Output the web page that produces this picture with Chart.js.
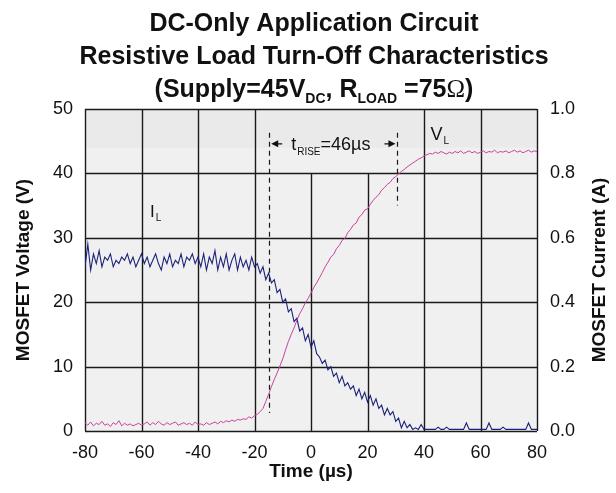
<!DOCTYPE html>
<html>
<head>
<meta charset="utf-8">
<script src="https://cdn.jsdelivr.net/npm/chart.js@4.4.0/dist/chart.umd.min.js"></script>
<style>
  html, body { margin: 0; padding: 0; background: #fff; }
</style>
</head>
<body>
<canvas id="chart" width="616" height="493"></canvas>
<script>
// time axis (microseconds), one sample per µs
const timeUs = [
  -80,-79,-78,-77,-76,-75,-74,-73,-72,-71,-70,-69,-68,-67,-66,-65,-64,-63,-62,-61,
  -60,-59,-58,-57,-56,-55,-54,-53,-52,-51,-50,-49,-48,-47,-46,-45,-44,-43,-42,-41,
  -40,-39,-38,-37,-36,-35,-34,-33,-32,-31,-30,-29,-28,-27,-26,-25,-24,-23,-22,-21,
  -20,-19,-18,-17,-16,-15,-14,-13,-12,-11,-10,-9,-8,-7,-6,-5,-4,-3,-2,-1,
  0,1,2,3,4,5,6,7,8,9,10,11,12,13,14,15,16,17,18,19,
  20,21,22,23,24,25,26,27,28,29,30,31,32,33,34,35,36,37,38,39,
  40,41,42,43,44,45,46,47,48,49,50,51,52,53,54,55,56,57,58,59,
  60,61,62,63,64,65,66,67,68,69,70,71,72,73,74,75,76,77,78,79,80
];

// MOSFET voltage V_L (V)
const voltageV = [
  1.3,0.9,1.4,0.8,1.2,1.0,1.5,0.9,1.1,0.7,
  1.3,1.0,1.6,0.8,1.2,0.9,1.1,0.8,1.0,1.2,
  0.9,1.1,1.4,0.9,1.3,1.0,1.5,1.1,0.9,1.3,
  1.0,1.2,1.4,0.9,1.1,1.3,1.0,1.2,0.9,1.4,
  1.0,1.1,0.9,1.3,1.0,1.2,1.4,1.1,1.5,1.3,
  1.6,1.4,1.7,1.5,1.8,1.7,1.9,1.8,2.2,2.0,
  2.4,2.6,3.0,3.5,4.6,5.7,6.9,8.0,9.0,10.1,
  11.2,12.6,13.9,15.0,16.0,17.2,18.2,19.0,19.9,20.6,
  21.4,22.3,23.0,23.8,24.6,25.5,26.2,27.0,27.4,28.3,
  28.8,29.6,29.9,30.8,31.3,32.0,32.3,33.2,33.6,34.3,
  34.5,35.2,35.8,36.3,36.7,37.4,37.8,38.3,38.6,39.2,
  39.5,39.9,40.3,40.6,41.0,41.3,41.6,41.9,42.2,42.4,
  42.7,42.9,43.1,43.0,43.3,43.1,43.4,43.2,43.0,43.3,
  43.1,43.4,43.2,43.5,43.1,43.3,43.5,43.2,43.4,43.1,
  43.3,43.5,43.2,43.4,43.3,43.6,43.2,43.4,43.3,43.5,
  43.2,43.4,43.6,43.3,43.5,43.2,43.4,43.6,43.3,43.5,
  43.4
];

// MOSFET current I_L (A)
const currentA = [
  0.51,0.58,0.50,0.55,0.52,0.56,0.51,0.54,0.53,0.55,
  0.51,0.53,0.52,0.54,0.53,0.55,0.52,0.54,0.51,0.53,
  0.55,0.52,0.54,0.51,0.53,0.55,0.52,0.50,0.54,0.52,
  0.55,0.51,0.53,0.52,0.55,0.51,0.54,0.53,0.55,0.52,
  0.54,0.51,0.55,0.50,0.54,0.52,0.56,0.50,0.54,0.51,
  0.55,0.50,0.53,0.55,0.50,0.54,0.51,0.53,0.50,0.54,
  0.51,0.52,0.49,0.51,0.47,0.49,0.46,0.47,0.43,0.44,
  0.40,0.41,0.37,0.38,0.34,0.35,0.31,0.32,0.28,0.30,
  0.26,0.28,0.24,0.23,0.21,0.22,0.19,0.20,0.17,0.18,
  0.15,0.17,0.14,0.15,0.13,0.14,0.11,0.13,0.10,0.12,
  0.09,0.11,0.08,0.10,0.07,0.08,0.05,0.07,0.05,0.06,
  0.03,0.04,0.01,0.03,0.01,0.02,0.005,0.01,0.005,0.02,
  0.005,0.005,0.005,0.005,0.005,0.012,0.005,0.005,0.012,0.005,
  0.005,0.005,0.005,0.005,0.005,0.025,0.005,0.005,0.005,0.005,
  0.005,0.005,0.005,0.025,0.005,0.005,0.005,0.005,0.012,0.005,
  0.005,0.005,0.005,0.005,0.005,0.005,0.005,0.025,0.005,0.005,
  0.005
];

const voltageTicks = [0, 10, 20, 30, 40, 50];
const currentTicks = [0, 0.2, 0.4, 0.6, 0.8, 1.0];
const timeTicks = [-80, -60, -40, -20, 0, 20, 40, 60, 80];

// t_rise markers (µs) and how far the dashed lines reach (V)
const riseMarks = [-14.8, 30.6];
const riseDashTop = 46.3;
const riseDashBottom = [2.8, 35];

const FONT = '"Liberation Sans", Arial, Helvetica, sans-serif';
Chart.defaults.font.family = FONT;
Chart.defaults.color = '#111';

// text with a subscript, returns end x
function subText(ctx, x, y, main, sub, size, subSize, weight) {
  ctx.font = weight + ' ' + size + 'px ' + FONT;
  ctx.fillText(main, x, y);
  x += ctx.measureText(main).width;
  if (sub) {
    ctx.font = weight + ' ' + subSize + 'px ' + FONT;
    ctx.fillText(sub, x + 1, y + subSize * 0.45);
    x += ctx.measureText(sub).width + 1;
  }
  return x;
}

const decorPlugin = {
  id: 'decor',
  beforeDraw(chart) {
    const { ctx, chartArea: a, scales } = chart;
    ctx.save();
    ctx.fillStyle = '#f0f0f0';
    ctx.fillRect(a.left, a.top, a.width, a.height);
    ctx.fillStyle = '#eaeaea';
    const band = scales.y.getPixelForValue(44);
    ctx.fillRect(a.left, a.top, a.width, band - a.top);
    ctx.restore();
  },
  beforeDatasetsDraw(chart) {
    const { ctx, chartArea: a, scales } = chart;
    const x = scales.x, y = scales.y;
    ctx.save();
    ctx.strokeStyle = '#1a1a1a';
    ctx.lineWidth = 1.4;
    ctx.beginPath();
    voltageTicks.forEach(v => {
      const py = Math.round(y.getPixelForValue(v)) + 0.5;
      ctx.moveTo(a.left, py); ctx.lineTo(a.right, py);
    });
    timeTicks.forEach(t => {
      const px = Math.round(x.getPixelForValue(t)) + 0.5;
      // no grid line under the t_rise label in the top row
      const top = (t === 0 || t === 20) ? y.getPixelForValue(40) : a.top;
      ctx.moveTo(px, top); ctx.lineTo(px, a.bottom);
    });
    ctx.stroke();

    // dashed t_rise markers
    ctx.setLineDash([5, 4]);
    ctx.lineWidth = 1.2;
    ctx.beginPath();
    riseMarks.forEach((t, i) => {
      const px = Math.round(x.getPixelForValue(t)) + 0.5;
      ctx.moveTo(px, y.getPixelForValue(riseDashTop));
      ctx.lineTo(px, y.getPixelForValue(riseDashBottom[i]));
    });
    ctx.stroke();
    ctx.restore();
  },
  afterDatasetsDraw(chart) {
    const { ctx, chartArea: a, scales } = chart;
    const x = scales.x, y = scales.y;
    ctx.save();
    ctx.fillStyle = '#111';
    ctx.strokeStyle = '#111';
    ctx.textBaseline = 'alphabetic';
    ctx.textAlign = 'left';

    // arrows at the t_rise markers
    const ay = y.getPixelForValue(44.6);
    const lx = x.getPixelForValue(riseMarks[0]) + 2;
    const rx = x.getPixelForValue(riseMarks[1]) - 2;
    ctx.lineWidth = 1.3;
    ctx.beginPath();
    ctx.moveTo(lx + 4, ay); ctx.lineTo(lx + 11, ay);
    ctx.moveTo(rx - 11, ay); ctx.lineTo(rx - 4, ay);
    ctx.stroke();
    ctx.beginPath();
    ctx.moveTo(lx, ay); ctx.lineTo(lx + 7, ay - 3.5); ctx.lineTo(lx + 7, ay + 3.5); ctx.closePath();
    ctx.moveTo(rx, ay); ctx.lineTo(rx - 7, ay - 3.5); ctx.lineTo(rx - 7, ay + 3.5); ctx.closePath();
    ctx.fill();

    // t_RISE label
    let tx = x.getPixelForValue(riseMarks[0]) + 22;
    const ty = y.getPixelForValue(43.6);
    tx = subText(ctx, tx, ty, 't', 'RISE', 18, 10, 'normal');
    subText(ctx, tx, ty, '=46\u00b5s', '', 18, 10, 'normal');

    // curve labels
    subText(ctx, x.getPixelForValue(-57), y.getPixelForValue(33.3), 'I', 'L', 17, 10, 'normal');
    subText(ctx, x.getPixelForValue(42.3), y.getPixelForValue(45.2), 'V', 'L', 18, 10, 'normal');

    // right axis title, reading upwards
    ctx.save();
    ctx.translate(600, (a.top + a.bottom) / 2);
    ctx.rotate(-Math.PI / 2);
    ctx.textAlign = 'center';
    ctx.textBaseline = 'middle';
    ctx.font = 'bold 19px ' + FONT;
    ctx.fillText('MOSFET Current (A)', 0, 0);
    ctx.restore();

    // chart title
    const cx = 314;
    ctx.textAlign = 'center';
    ctx.font = 'bold 25px ' + FONT;
    ctx.fillText('DC-Only Application Circuit', cx, 31);
    ctx.fillText('Resistive Load Turn-Off Characteristics', cx, 64);

    const parts = [
      ['(Supply=45V', 'bold 25px ' + FONT, 0],
      ['DC', 'bold 14px ' + FONT, 6],
      [', R', 'bold 25px ' + FONT, 0],
      ['LOAD', 'bold 14px ' + FONT, 6],
      [' =75', 'bold 25px ' + FONT, 0],
      ['\u03a9', '25px "Liberation Serif", serif', 0],
      [')', 'bold 25px ' + FONT, 0]
    ];
    let w = 0;
    parts.forEach(p => { ctx.font = p[1]; w += ctx.measureText(p[0]).width; });
    let px = cx - w / 2;
    ctx.textAlign = 'left';
    parts.forEach(p => {
      ctx.font = p[1];
      ctx.fillText(p[0], px, 97 + p[2]);
      px += ctx.measureText(p[0]).width;
    });
    ctx.restore();
  }
};

const ctx = document.getElementById('chart').getContext('2d');
new Chart(ctx, {
  type: 'line',
  data: {
    datasets: [{
      label: 'V_L',
      data: timeUs.map((t, i) => ({ x: t, y: voltageV[i] })),
      borderColor: '#c8429f',
      borderWidth: 1,
      pointRadius: 0,
      yAxisID: 'y'
    }, {
      label: 'I_L',
      data: timeUs.map((t, i) => ({ x: t, y: currentA[i] })),
      borderColor: '#1c2279',
      borderWidth: 1.1,
      pointRadius: 0,
      yAxisID: 'y1'
    }]
  },
  options: {
    responsive: false,
    animation: false,
    layout: { padding: { top: 109, left: 0, right: 0, bottom: 0 } },
    plugins: {
      legend: { display: false },
      tooltip: { enabled: false }
    },
    scales: {
      x: {
        type: 'linear',
        min: -80, max: 80,
        afterBuildTicks: s => { s.ticks = timeTicks.map(v => ({ value: v })); },
        afterFit: s => { s.height = 62; },
        grid: { display: false, drawTicks: false },
        border: { display: false },
        ticks: { font: { size: 18 }, padding: 11, maxRotation: 0 },
        title: { display: true, text: 'Time (\u00b5s)', font: { size: 19, weight: 'bold' }, padding: { top: 0, bottom: 10 } }
      },
      y: {
        position: 'left',
        min: 0, max: 50,
        afterBuildTicks: s => { s.ticks = voltageTicks.map(v => ({ value: v })); },
        afterFit: s => { s.width = 85; },
        grid: { display: false, drawTicks: false },
        border: { display: false },
        ticks: { font: { size: 18 }, padding: 12 },
        title: { display: true, text: 'MOSFET Voltage (V)', font: { size: 19, weight: 'bold' }, padding: { top: 12, bottom: 0 } }
      },
      y1: {
        position: 'right',
        min: 0, max: 1,
        afterBuildTicks: s => { s.ticks = currentTicks.map(v => ({ value: v })); },
        afterFit: s => { s.width = 79; },
        grid: { display: false, drawTicks: false },
        border: { display: false },
        ticks: { font: { size: 18 }, padding: 13, callback: v => v.toFixed(1) }
      }
    }
  },
  plugins: [decorPlugin]
});
</script>
</body>
</html>
